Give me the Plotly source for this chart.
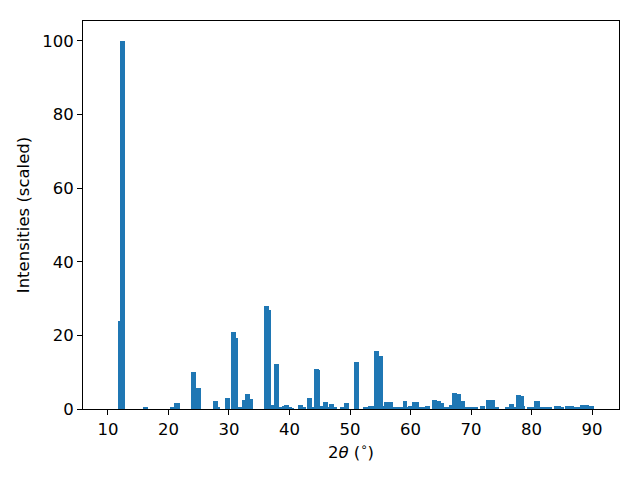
import plotly.graph_objects as go

two_theta = [12.0, 12.35, 16.15, 20.6, 21.27, 21.45, 24.07, 24.9, 27.7, 28.1,
             29.7, 30.69, 31.04, 31.84, 32.5, 33.0, 33.5, 36.15, 36.5, 37.3,
             37.8, 38.55, 39.2, 39.45, 40.0, 40.3, 41.8, 42.3, 43.3, 43.8,
             44.4, 44.6, 45.2, 45.9, 46.5, 46.9, 47.5, 48.8, 49.48, 51.1,
             52.6, 53.3, 53.6, 54.35, 55.0, 55.3, 56.0, 56.65, 57.55, 58.4,
             59.1, 59.6, 60.05, 60.7, 60.95, 61.6, 62.1, 62.75, 63.9, 64.6,
             65.1, 65.4, 66.1, 66.8, 67.25, 67.9, 68.55, 69.2, 70.1, 70.8,
             71.9, 72.83, 73.52, 74.2, 76.0, 76.65, 77.2, 77.8, 78.3, 78.5,
             79.6, 80.1, 80.85, 81.05, 81.6, 82.4, 83.0, 84.1, 84.4, 84.9,
             85.9, 86.6, 87.3, 87.7, 88.4, 89.1, 89.9]
intensity = [23.9, 100.0, 0.54, 0.3, 1.6, 1.5, 10.0, 5.7, 2.2, 0.3,
             3.0, 20.9, 19.3, 0.5, 2.4, 4.1, 2.7, 28.0, 26.9, 1.1,
             12.2, 0.3, 0.8, 1.1, 0.5, 0.2, 1.1, 0.3, 3.0, 0.3,
             10.9, 10.6, 0.8, 1.9, 0.3, 1.4, 0.3, 0.5, 1.6, 12.8,
             0.3, 0.8, 0.8, 15.8, 14.4, 0.8, 1.9, 1.9, 0.5, 0.5,
             2.2, 0.3, 0.8, 1.9, 1.9, 0.3, 0.5, 0.8, 2.4, 2.2,
             1.6, 0.5, 0.3, 1.1, 4.3, 4.1, 2.2, 0.3, 0.3, 0.3,
             0.8, 2.4, 2.4, 0.3, 0.3, 1.4, 0.3, 3.8, 3.5, 0.8,
             0.3, 0.3, 2.2, 2.2, 0.3, 0.5, 0.3, 0.8, 0.8, 0.3,
             0.8, 0.8, 0.3, 0.3, 1.1, 1.1, 0.8]
x_ticks = [10, 20, 30, 40, 50, 60, 70, 80, 90]
y_ticks = [0, 20, 40, 60, 80, 100]

fig = go.Figure(go.Bar(x=two_theta, y=intensity, width=0.8,
                       marker=dict(color="#1f77b4", line=dict(width=0))))

font = dict(family="DejaVu Sans", size=16.5, color="black")
axis_common = dict(showline=True, linecolor="black", linewidth=1.1, mirror=True,
                   ticks="outside", ticklen=5, tickwidth=1.1, tickcolor="black",
                   showgrid=False, zeroline=False, tickfont=font)

fig.update_layout(
    width=632, height=472,
    margin=dict(l=75, r=21, t=13, b=71, autoexpand=False),
    paper_bgcolor="white", plot_bgcolor="white",
    barmode="overlay", bargap=0, showlegend=False,
    font=font,
    xaxis=dict(range=[5.87, 94.46], tickvals=x_ticks,
               title=dict(text="2<i>θ</i> (<sup>∘</sup>)", font=font, standoff=8),
               **axis_common),
    yaxis=dict(range=[0, 105.4], tickvals=y_ticks,
               title=dict(text="Intensities (scaled)", font=font, standoff=8),
               **axis_common),
)

fig.write_html("out.html")
